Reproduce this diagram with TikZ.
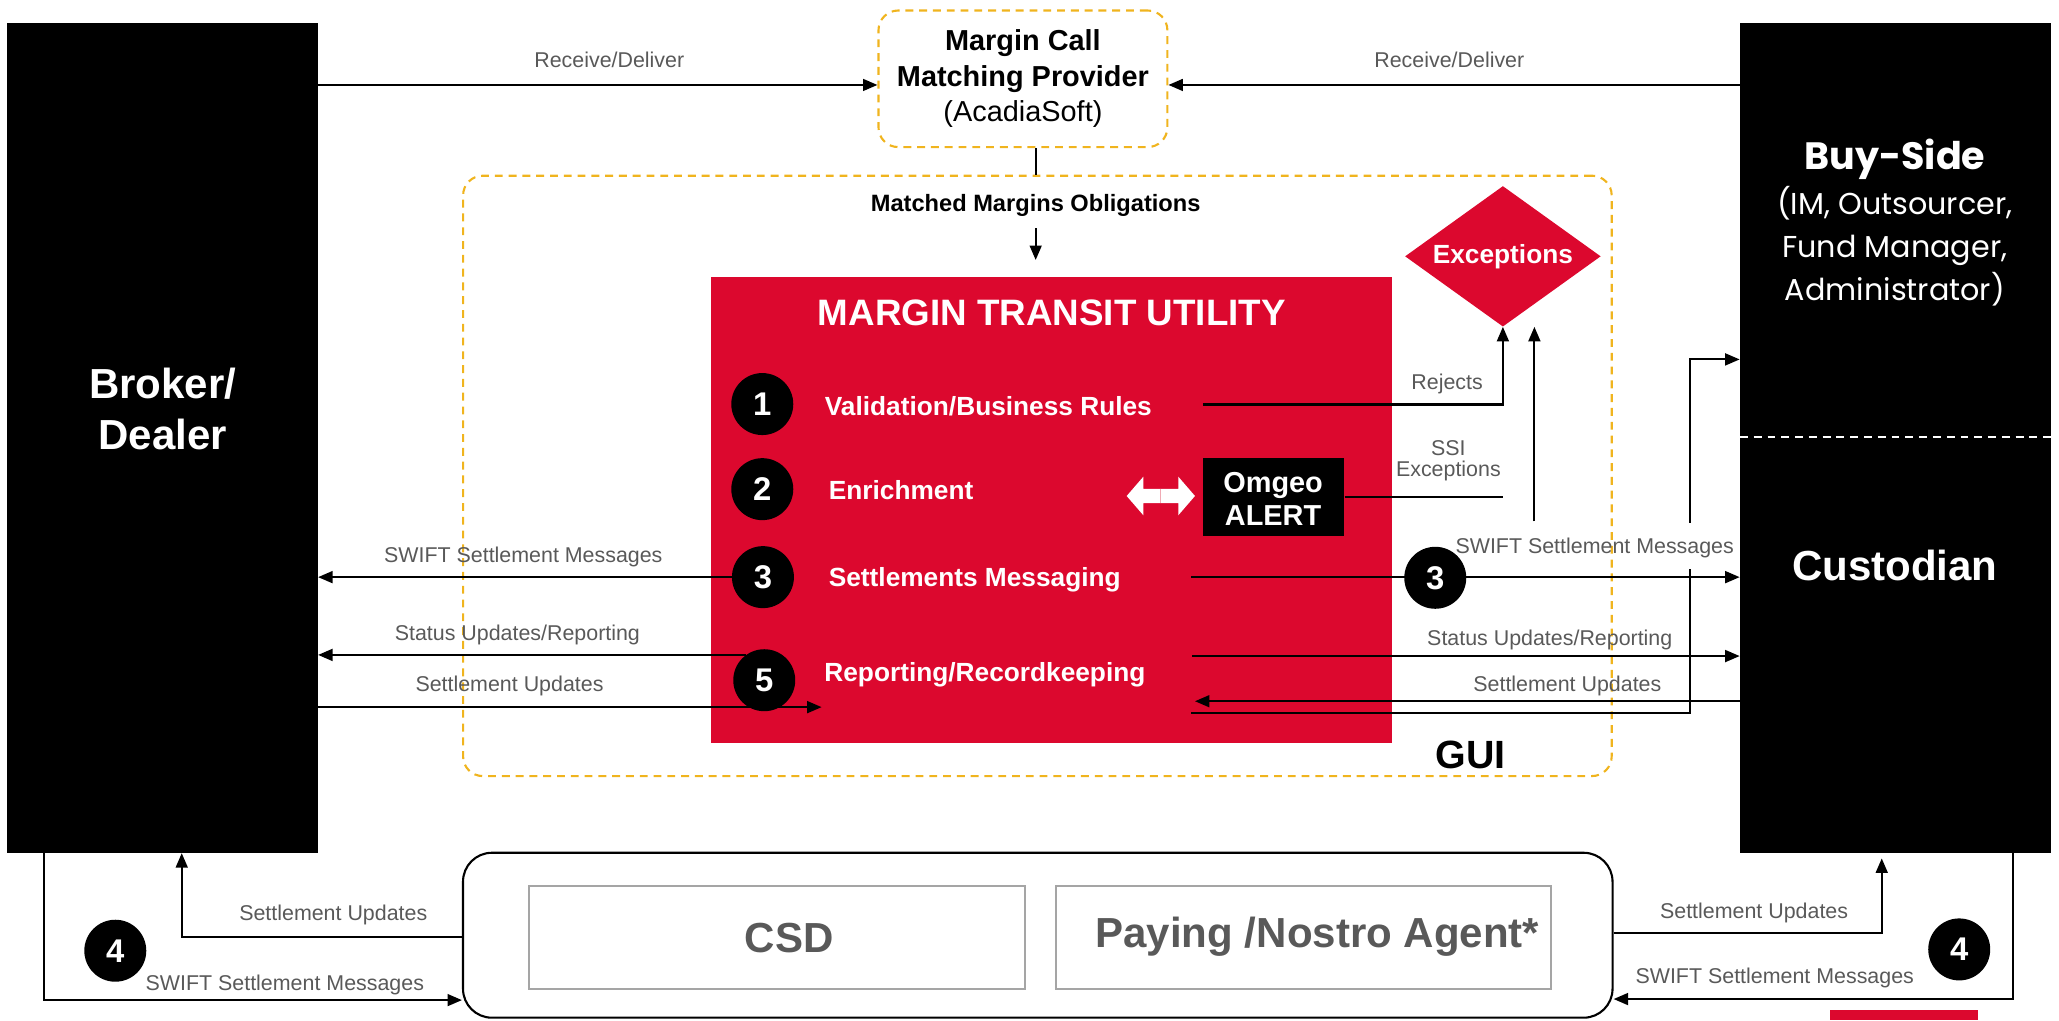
\documentclass[tikz,border=0pt]{standalone}
\usepackage{fontspec}
\setmainfont{Liberation Sans}
\newfontfamily\geofont{Poppins}
\usetikzlibrary{arrows.meta,shapes.geometric}
\definecolor{mtured}{RGB}{220,8,46}
\definecolor{dashorange}{RGB}{240,180,30}
\definecolor{lblgray}{RGB}{89,89,89}
\definecolor{boxgray}{RGB}{165,165,165}
\definecolor{seampink}{RGB}{240,170,180}
\begin{document}
\begin{tikzpicture}[x=1pt,y=-1pt,
  conn/.style={draw=black,line width=1.6pt},
  arr/.style={conn,-{Triangle[length=11pt,width=9pt]}},
  lbl/.style={text=lblgray,font=\fontsize{16.3}{18}\selectfont,inner sep=1pt},
  numc/.style={circle,fill=black,minimum size=47.2pt,inner sep=0pt,text=white,font=\bfseries\fontsize{25}{28}\selectfont},
  itemtxt/.style={text=white,font=\bfseries\fontsize{20}{22}\selectfont,anchor=west,inner sep=0pt},
  blackbox/.style={fill=black,draw=none,inner sep=0pt},
  orangebox/.style={draw=dashorange,line width=1.6pt,dash pattern=on 6pt off 4.5pt,rounded corners=15pt,inner sep=0pt},
  graybox/.style={draw=boxgray,line width=1.6pt,inner sep=0pt},
  bigwhite/.style={text=white,font=\bfseries\fontsize{32}{39}\selectfont,align=center,inner sep=0pt},
  graytitle/.style={text=lblgray,font=\bfseries\fontsize{32}{36}\selectfont,inner sep=0pt}
]
\useasboundingbox (0,0) rectangle (1568,776.8);

% main boxes
\node[blackbox,minimum width=236.5pt,minimum height=632pt] (broker) at (123.8,333.5) {};
\node[bigwhite] (brokertxt) at (124,311.5) {Broker/\\Dealer};
\node[blackbox,minimum width=237pt,minimum height=632pt] (buyside) at (1443.5,333.5) {};
\coordinate (sepL) at (1325,333);
\draw[white,line width=1.6pt,dash pattern=on 6pt off 4.5pt] (sepL) -- (sepL -| buyside.east);
\node[text=white,font=\geofont\bfseries\fontsize{29}{32}\selectfont,inner sep=0pt] (buytitle) at (1443,121) {Buy-Side};
\node[text=white,font=\geofont\fontsize{23}{32.4}\selectfont,align=center,inner sep=0pt] (buysub) at (1443,187.5) {(IM, Outsourcer,\\Fund Manager,\\Administrator)};
\node[bigwhite] (custtxt) at (1443,431) {Custodian};

\node[orangebox,minimum width=220pt,minimum height=104pt] (mcmp) at (779,60) {};
\node[font=\fontsize{22}{27}\selectfont,align=center,inner sep=0pt] (mcmptxt) at (779,60) {\textbf{Margin Call}\\\textbf{Matching Provider}\\(AcadiaSoft)};

\node[orangebox,minimum width=874.7pt,minimum height=457.2pt] (gui) at (790,362.4) {};
\node[font=\bfseries\fontsize{30}{32}\selectfont,inner sep=0pt] (guitxt) at (1120,575) {GUI};

\node[fill=mtured,minimum width=519pt,minimum height=354.6pt,inner sep=0pt] (mtu) at (800.9,388.3) {};
\node[text=white,font=\bfseries\fontsize{28}{30}\selectfont,inner sep=0pt] (mtutitle) at (801,238.5) {MARGIN TRANSIT UTILITY};

\node[diamond,aspect=1.39,fill=mtured,minimum width=149pt,minimum height=107pt,inner sep=0pt,text=white,font=\bfseries\fontsize{20}{22}\selectfont] (exc) at (1144.5,195.2) {Exceptions};

\node[blackbox,minimum width=107.7pt,minimum height=59pt] (omgeo) at (969.9,378.5) {};
\node[text=white,font=\bfseries\fontsize{22}{25.2}\selectfont,align=center,inner sep=0pt] (omgeotxt) at (969.5,380) {Omgeo\\ALERT};

% items
\node[itemtxt] (val) at (628,309) {Validation/Business Rules};
\node[itemtxt] (enr) at (631,373) {Enrichment};
\node[itemtxt] (setm) at (631,441.5) {Settlements Messaging};
\node[itemtxt] (rep) at (627.6,514) {Reporting/Recordkeeping};

% white double arrow
\fill[white] (858,377.7) -- (870.7,363) -- (870.7,372.2) -- (897.3,372.2) -- (897.3,363) -- (910,377.7) -- (897.3,392.4) -- (897.3,383.2) -- (870.7,383.2) -- (870.7,392.4) -- cycle;
\draw[seampink,line width=0.8pt] (884,372.2) -- (884,383.2);

% bottom box
\node[draw=black,line width=1.6pt,rounded corners=22pt,minimum width=875.4pt,minimum height=125.6pt,inner sep=0pt] (bottom) at (790.3,712.2) {};
\node[graybox,minimum width=377.6pt,minimum height=78.5pt] (csd) at (591.8,713.75) {};
\node[graytitle] (csdtxt) at (601,714) {CSD};
\node[graybox,minimum width=377pt,minimum height=78.5pt] (pay) at (992.5,713.75) {};
\node[graytitle] (paytxt) at (1003.2,713) {Paying /Nostro Agent*};

% ---- connectors ----
\coordinate (yRD) at (0,64.7);
\draw[arr] (broker.east |- yRD) -- (mcmp.west |- yRD);
\draw[arr] (buyside.west |- yRD) -- (mcmp.east |- yRD);
\node[lbl] (lrd1) at (464,45.2) {Receive/Deliver};
\node[lbl] (lrd2) at (1103.7,45.2) {Receive/Deliver};

\coordinate (mmx) at (788.7,0);
\draw[conn] (mcmp.south -| mmx) -- (gui.north -| mmx);
\node[font=\bfseries\fontsize{18}{20}\selectfont,inner sep=0pt] (mmo) at (788.7,156.5) {Matched Margins Obligations};
\coordinate (mmtop) at (788.7,173.8);
\coordinate (mmtip) at (788.7,198);
\draw[arr] (mmtop) -- (mmtip);

\coordinate (valR) at (916,308);
\draw[arr] (valR) -| (exc.south);
\draw[conn] (omgeo.east) -- (omgeo.east -| exc.south);
\node[lbl] (lrej) at (1102,292.5) {Rejects};
\node[lbl,align=center,font=\fontsize{16.3}{15.5}\selectfont] (lssi) at (1103,351) {SSI\\Exceptions};
\coordinate (v2b) at (1168.5,397);
\draw[arr] (v2b) -- (v2b |- exc.south);

\coordinate (smR) at (907,439.5);
\draw[arr] (smR) -- (smR -| buyside.west);
\coordinate (stR) at (908,499.6);
\draw[arr] (stR) -- (stR -| buyside.west);
\coordinate (suR) at (910,534);
\draw[arr] (buyside.west |- suR) -- (suR);
\coordinate (rpR) at (907,542.7);
\coordinate (vb) at (1287,273.7);
\coordinate (vgapL) at (1287,433);
\coordinate (vgapU) at (1287,398);
\draw[conn] (rpR) -- (rpR -| vb) -- (vgapL);
\draw[arr] (vgapU) -- (vb) -- (vb -| buyside.west);
\node[lbl] (lswr) at (1214.4,417.5) {SWIFT Settlement Messages};
\node[lbl] (lstr) at (1180.2,487) {Status Updates/Reporting};
\node[lbl] (lsur) at (1193.6,522) {Settlement Updates};

% numbered circles (drawn over lines)
\node[numc] (c1) at (580.5,307.7) {1};
\node[numc] (c2) at (580.5,372.5) {2};
\node[numc] (c3) at (581,439.5) {3};
\node[numc] (c5) at (582,518) {5};
\node[numc] (c3r) at (1093,440) {3};

\draw[arr] (c3.west) -- (c3.west -| broker.east);
\draw[arr] (c5.126) -- (c5.126 -| broker.east);
\coordinate (suL) at (625.7,538.5);
\draw[arr] (broker.east |- suL) -- (suL);
\node[lbl] (lswl) at (398.5,424) {SWIFT Settlement Messages};
\node[lbl] (lstl) at (394,483.5) {Status Updates/Reporting};
\node[lbl] (lsul) at (388,522.5) {Settlement Updates};

% bottom connectors
\coordinate (bl1) at (138.4,713.8);
\draw[arr] (bottom.west |- bl1) -- (bl1) -- (bl1 |- broker.south);
\coordinate (bl2) at (33.2,761.6);
\draw[arr] (bl2 |- broker.south) -- (bl2) -- (bottom.west |- bl2);
\coordinate (br1) at (1433,710.8);
\coordinate (br1t) at (1433,653.7);
\draw[arr] (bottom.east |- br1) -- (br1) -- (br1t);
\coordinate (br2) at (1532.8,760.8);
\draw[arr] (br2 |- buyside.south) -- (br2) -- (bottom.east |- br2);
\node[lbl] (lsubl) at (253.8,696.5) {Settlement Updates};
\node[lbl] (lswbl) at (216.9,750) {SWIFT Settlement Messages};
\node[lbl] (lsubr) at (1335.8,695.5) {Settlement Updates};
\node[lbl] (lswbr) at (1351.5,745) {SWIFT Settlement Messages};
\node[numc] (c4l) at (87.8,724) {4};
\node[numc] (c4r) at (1492,723) {4};

\fill[mtured] (1393.6,769.2) rectangle (1506.4,777);
\end{tikzpicture}
\end{document}
